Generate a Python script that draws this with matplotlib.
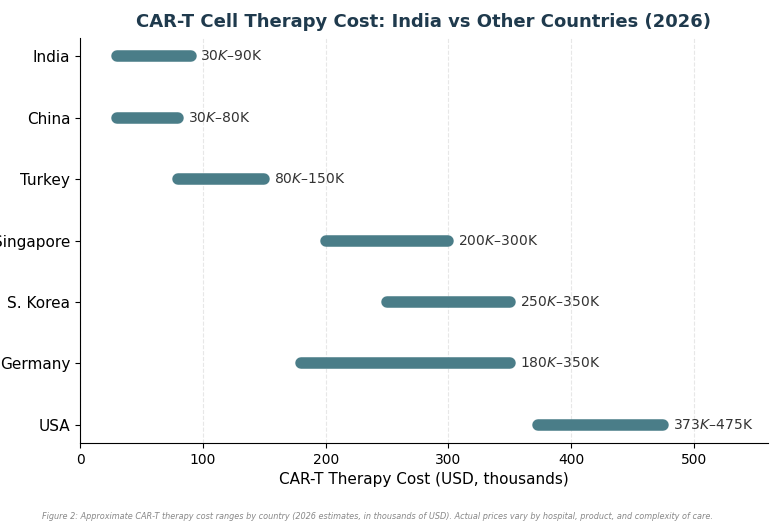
import matplotlib
matplotlib.use("Agg")
import matplotlib.pyplot as plt

countries = ["India", "China", "Turkey", "Singapore", "S. Korea", "Germany", "USA"]
low = [30, 30, 80, 200, 250, 180, 373]
high = [90, 80, 150, 300, 350, 350, 475]
labels = ["$30K–$90K", "$30K–$80K", "$80K–$150K", "$200K–$300K",
          "$250K–$350K", "$180K–$350K", "$373K–$475K"]

bar_color = "#4a7d88"

fig = plt.figure(figsize=(7.7, 5.27), dpi=100)
ax = fig.add_axes([0.104, 0.159, 0.893, 0.769])

ypos = list(range(len(countries)))
for y, lo, hi, lab in zip(ypos, low, high, labels):
    ax.plot([lo, hi], [y, y], color=bar_color, lw=8.3, solid_capstyle="round", zorder=3)
    ax.text(hi + 8, y, lab, va="center", ha="left", fontsize=10, color="#333333")

ax.set_yticks(ypos)
ax.set_yticklabels(countries, fontsize=11)
ax.invert_yaxis()
ax.set_xlim(0, 560)
ax.tick_params(axis="x", labelsize=10)
ax.set_xlabel("CAR-T Therapy Cost (USD, thousands)", fontsize=11)
ax.set_title("CAR-T Cell Therapy Cost: India vs Other Countries (2026)",
             fontsize=13, fontweight="bold", color="#1f3a4d", pad=8)
ax.grid(axis="x", linestyle="--", alpha=0.3, zorder=0)
ax.spines["top"].set_visible(False)
ax.spines["right"].set_visible(False)

fig.text(0.055, 0.016, "Figure 2: Approximate CAR-T therapy cost ranges by country (2026 estimates, in thousands of USD). "
         "Actual prices vary by hospital, product, and complexity of care.",
         fontsize=5.9, style="italic", color="#888888", ha="left")

fig.savefig("out.png", dpi=100)
